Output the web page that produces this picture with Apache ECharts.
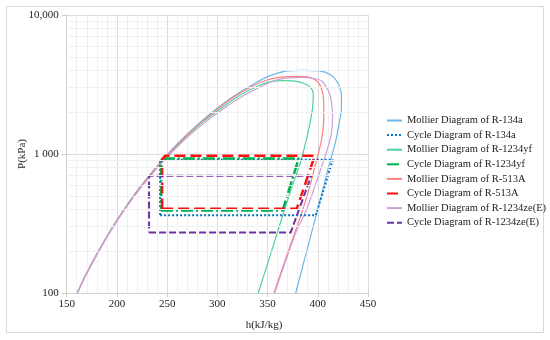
<!DOCTYPE html>
<html>
<head>
<meta charset="utf-8">
<script src="https://cdn.jsdelivr.net/npm/echarts@6/dist/echarts.min.js"></script>
<style>html,body{margin:0;padding:0;background:#fff;}#c{width:550px;height:340px;}</style>
</head>
<body>
<div id="c"></div>
<script>
// ---- data (h kJ/kg, P kPa) ----
const seriesNames = [
  'Mollier Diagram of R-134a', 'Cycle Diagram of R-134a',
  'Mollier Diagram of R-1234yf', 'Cycle Diagram of R-1234yf',
  'Mollier Diagram of R-513A', 'Cycle Diagram of R-513A',
  'Mollier Diagram of R-1234ze(E)', 'Cycle Diagram of R-1234ze(E)'
];
const mollier134a = [[160.8,100],[168.6,133],[181.7,200],[195,293],[208.6,415],[222.5,572],[236.7,770],[251.4,1016],[266.6,1318],[282.5,1682],[299.3,2117],[317.4,2633],[337.9,3244],[352,3650],[368,3950],[385,4000],[402,3960],[413,3700],[420,3244],[423.6,2600],[423.5,2100],[421.5,1700],[418.5,1300],[414.5,1000],[410,770],[405.5,572],[400.5,415],[395,293],[389,200],[382.5,133],[378,100]];
const cycle134a = [[243,362],[398,362],[415,910],[243,910],[243,362]];
const mollier1234yf = [[160.5,100],[168.5,133],[181.7,200],[195.3,293],[209,415],[223.2,572],[237.7,770],[252.8,1016],[268.5,1318],[285,1682],[303,2117],[322,2633],[341,3100],[352,3300],[365,3370],[378,3340],[387,3200],[393,3000],[395.5,2700],[395,2200],[392.5,1700],[389,1300],[383.5,905],[375,600],[367,400],[354,200],[340.7,100]];
const cycle1234yf = [[244,392],[365,392],[381,930],[244,930],[244,392]];
const mollier513A = [[160.5,100],[168.5,133],[181.7,200],[195.2,293],[209,415],[223,572],[237.3,770],[252.2,1016],[267.5,1318],[283.5,1682],[300.5,2117],[318.5,2633],[336,3100],[350,3420],[362,3560],[378,3620],[392,3560],[400,3300],[404,2900],[405.8,2450],[406,1850],[403.7,1260],[398.8,905],[392,582],[383.8,374],[372.2,215],[356.3,100]];
const cycle513A = [[245,403],[379,403],[397,970],[248,970],[245,920],[245,403]];
const mollier1234ze = [[160.5,100],[168.8,133],[182,200],[195.6,293],[209.5,415],[223.8,572],[238.5,770],[254,1016],[270,1318],[287.5,1682],[306,2117],[325,2600],[345,3100],[357,3380],[370,3530],[385,3560],[397,3480],[404,3350],[410.3,2875],[413.5,2400],[414.7,1855],[413.5,1400],[409,1050],[403.5,800],[397,582],[389,400],[378,270],[368,170],[357,100]];
const cycle1234ze = [[232,272],[373,272],[393.5,698],[232,698],[232,272]];
const minorGridP = [200,300,400,500,600,700,800,900,2000,3000,4000,5000,6000,7000,8000,9000];
const yTickValues = [100, 1000, 10000];
const yTickLabels = ['100', '1 000', '10,000'];
const xTickLabels = ['150','200','250','300','350','400','450'];

const font = '"Liberation Serif", "Times New Roman", serif';
const chart = echarts.init(document.getElementById('c'), null, {renderer: 'canvas'});

function mollier(name, data, color) {
  return {name, type: 'line', data, symbol: 'none', smooth: 0.25, z: 3,
    lineStyle: {color, width: 1.2}, itemStyle: {color}};
}
function cycle(name, data, color, width, dash) {
  return {name, type: 'line', data, symbol: 'none', z: 4,
    lineStyle: {color, width, type: dash, cap: 'butt'}, itemStyle: {color}};
}

chart.setOption({
  animation: false,
  backgroundColor: '#fff',
  grid: {left: 66.7, right: 182, top: 15, bottom: 47},
  graphic: [
    {type: 'rect', shape: {x: 6.5, y: 6.5, width: 537, height: 326}, style: {fill: 'none', stroke: '#d9d9d9', lineWidth: 1}, silent: true, z: -1},
    {type: 'text', x: 264, y: 325, style: {text: 'h(kJ/kg)', align: 'center', verticalAlign: 'middle', font: '11px ' + font, fill: '#222'}}
  ],
  legend: {
    orient: 'vertical', left: 381, top: 110,
    itemWidth: 15, itemHeight: 11, itemGap: 3.6,
    itemStyle: {opacity: 0},
    textStyle: {fontFamily: font, fontSize: 10.5, color: '#222'},
    data: seriesNames
  },
  xAxis: {
    type: 'value', min: 150, max: 450, interval: 50,
    axisLine: {show: true, lineStyle: {color: '#d0d0d0'}},
    axisTick: {show: true, length: 4, lineStyle: {color: '#d0d0d0'}},
    axisLabel: {fontFamily: font, fontSize: 11, color: '#222', margin: 6,
      formatter: v => xTickLabels[Math.round((v - 150) / 50)]},
    splitLine: {show: true, lineStyle: {color: '#dcdcdc'}},
    minorTick: {show: false, splitNumber: 5},
    minorSplitLine: {show: true, lineStyle: {color: '#f0f0f0'}}
  },
  yAxis: {
    type: 'log', logBase: 10, min: 100, max: 10000,
    name: 'P(kPa)', nameLocation: 'middle', nameGap: 39, nameRotate: 90,
    nameMoveOverlap: false,
    nameTextStyle: {fontFamily: font, fontSize: 11, color: '#222'},
    axisLine: {show: true, lineStyle: {color: '#d0d0d0'}},
    axisTick: {show: true, length: 5, lineStyle: {color: '#d0d0d0'}},
    axisLabel: {fontFamily: font, fontSize: 11, color: '#222', margin: 8,
      formatter: v => { const i = yTickValues.indexOf(Math.round(v)); return i >= 0 ? yTickLabels[i] : ''; }},
    splitLine: {show: true, lineStyle: {color: '#dcdcdc'}}
  },
  series: [
    {name: 'minorGrid', type: 'line', data: [], z: 1, silent: true,
      markLine: {silent: true, symbol: ['none', 'none'], label: {show: false}, animation: false,
        lineStyle: {color: '#f0f0f0', width: 1, type: 'solid'},
        data: minorGridP.map(p => ({yAxis: p}))}},
    mollier(seriesNames[0], mollier134a, '#6bb7e6'),
    cycle(seriesNames[1], cycle134a, '#0a74c9', 2, 'dotted'),
    mollier(seriesNames[2], mollier1234yf, '#4fd39c'),
    cycle(seriesNames[3], cycle1234yf, '#00b050', 2.5, [12, 3, 2, 3]),
    mollier(seriesNames[4], mollier513A, '#ff8080'),
    cycle(seriesNames[5], cycle513A, '#ff1010', 2.5, [11, 5]),
    mollier(seriesNames[6], mollier1234ze, '#c8a2dc'),
    cycle(seriesNames[7], cycle1234ze, '#7030a0', 2, [7, 3])
  ]
});
</script>
</body>
</html>
